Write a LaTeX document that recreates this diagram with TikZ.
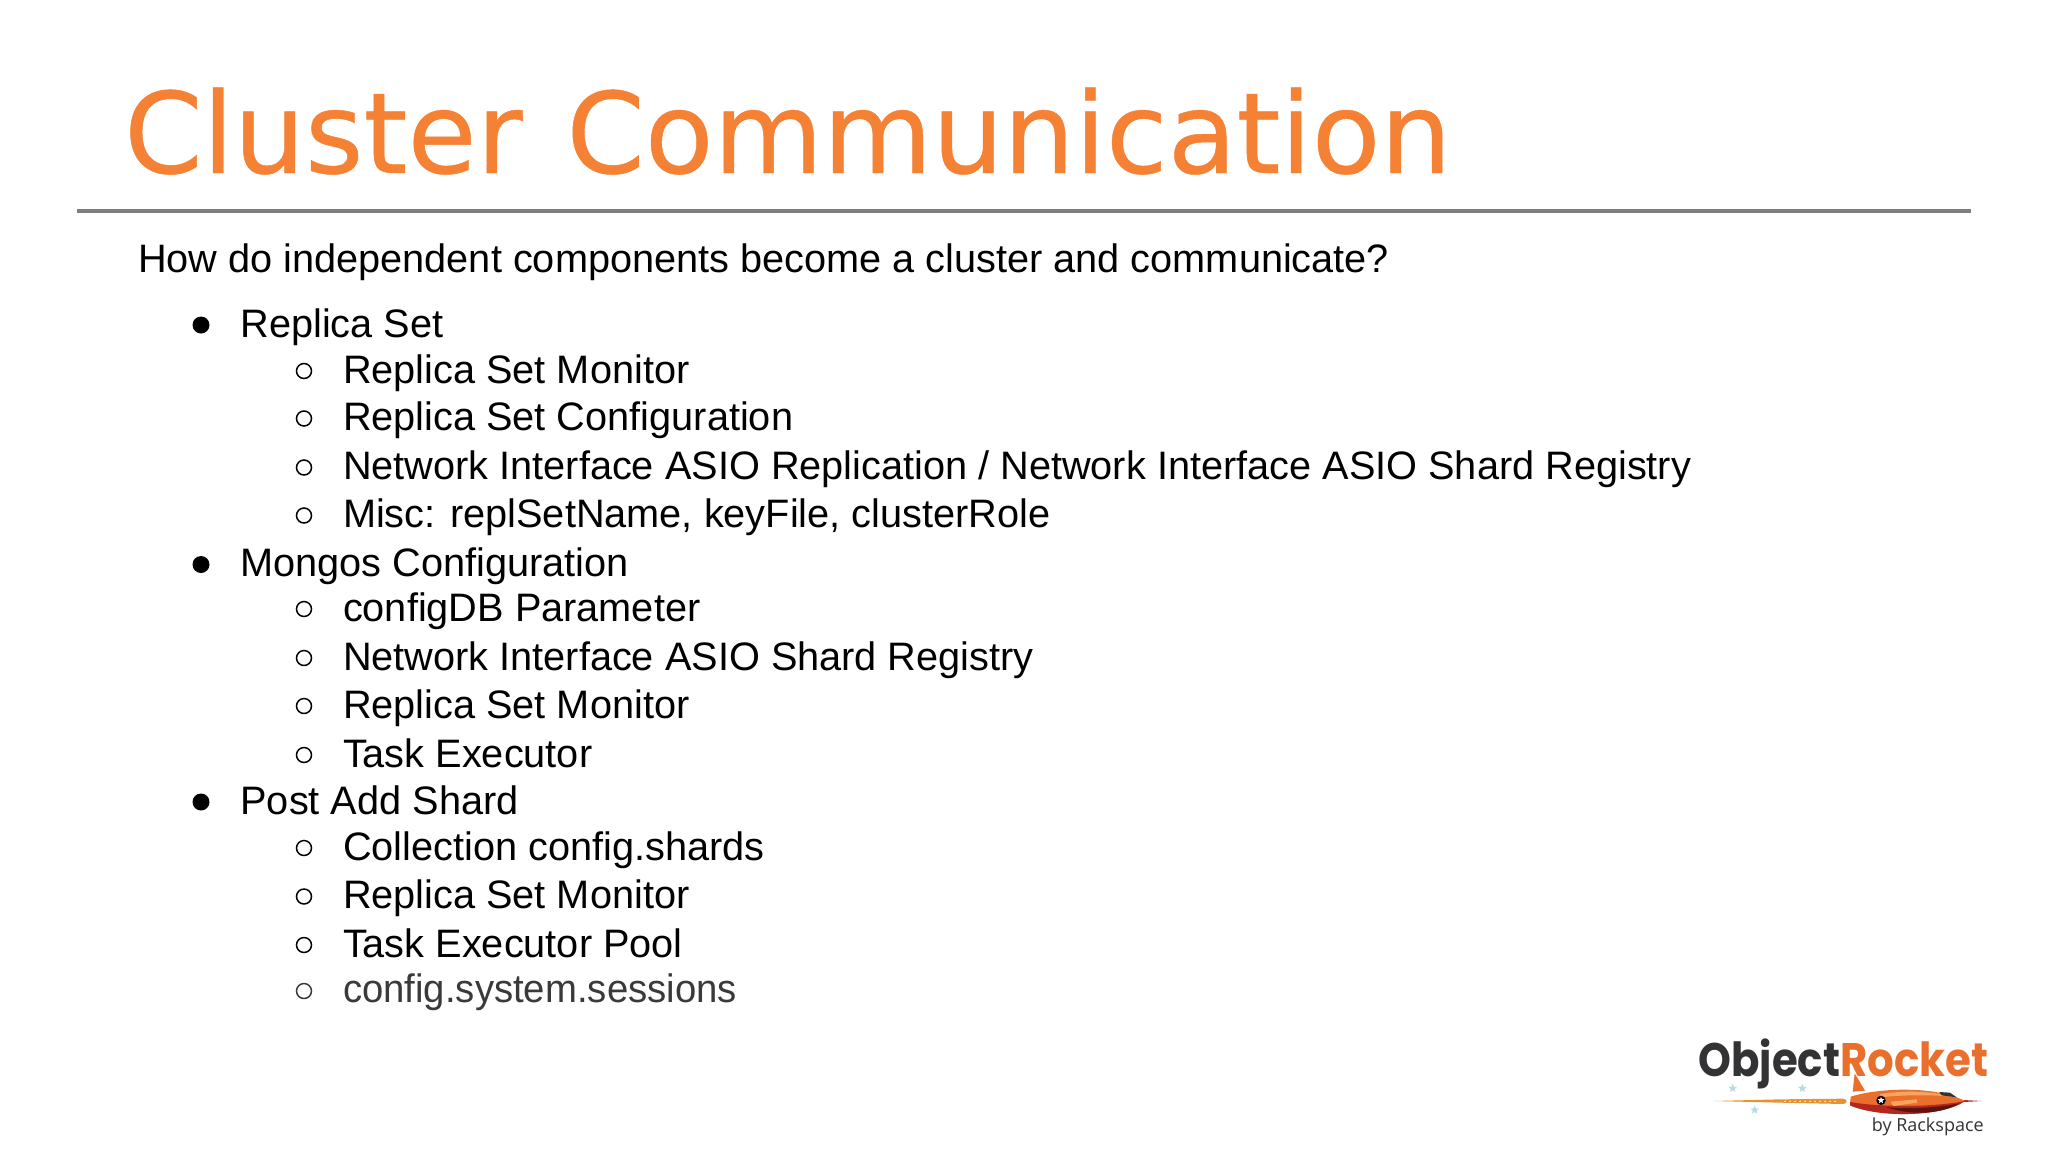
\documentclass[tikz,border=0pt]{standalone}
\usepackage{fontspec}
\setmainfont{Liberation Sans}
\newfontfamily\titlefont[FakeBold=0.4]{DejaVu Sans}
\newfontfamily\logofont{Poppins}
\newfontfamily\byfont{Open Sans}
\usetikzlibrary{shapes.geometric}
\definecolor{orangeT}{HTML}{F48134}
\definecolor{ruleG}{HTML}{7F7F7F}
\definecolor{greyT}{HTML}{3A3A3A}
\definecolor{logoD}{HTML}{333335}
\definecolor{logoO}{HTML}{EA6E2C}
\definecolor{trail}{HTML}{E8932E}
\definecolor{starB}{HTML}{B5DCE6}
\definecolor{rocketR}{HTML}{B5261E}
\definecolor{rocketD}{HTML}{5A1512}
\definecolor{rocketL}{HTML}{F7A45C}
\tikzset{
  body/.style={anchor=base west,inner sep=0pt,outer sep=0pt,font=\fontsize{39.7}{40}\selectfont,text=black},
  bigdot/.style={circle,fill=black,minimum size=17pt,inner sep=0pt},
  ring/.style={circle,draw=black,line width=1.5pt,minimum size=15pt,inner sep=0pt},
  logostar/.style={star,star points=5,star point ratio=2.3,fill=starB,minimum size=9pt,inner sep=0pt},
  logotext/.style={anchor=base west,inner sep=0pt,xscale=.89,font=\logofont\bfseries\fontsize{47}{47}\selectfont},
}
\begin{document}
\begin{tikzpicture}[x=1pt,y=-1pt]
\useasboundingbox (0,0) rectangle (2048,1152);
\fill[white] (0,0) rectangle (2048,1152);
\node[anchor=base west,inner sep=0pt,text=orangeT,font=\titlefont\fontsize{112.3}{116}\selectfont] (title) at (124,173) {Cluster\hspace{8pt} Communication};
\coordinate (ruleL) at (77,211);
\coordinate (ruleR) at (1971,211);
\draw[ruleG,line width=4pt] (ruleL) -- (ruleR);
\node[body] (q) at (138,272) {How do independent components become a cluster and communicate?};
\foreach \n/\t/\yy in {a/Replica Set/337,b/Mongos Configuration/576.5,c/Post Add Shard/814}{
  \node[body] (\n) at (240.5,\yy) {\t};
  \node[bigdot] (\n d) at (201,\yy-12) {};
}
\foreach \n/\t/\yy in {
  a1/Replica Set Monitor/383,
  a2/Replica Set Configuration/430.5,
  a3/{Network Interface ASIO Replication / Network Interface ASIO Shard Registry}/479.5,
  a4/{Misc: replSetName, keyFile, clusterRole}/527.5,
  b1/configDB Parameter/621,
  b2/Network Interface ASIO Shard Registry/670,
  b3/Replica Set Monitor/718,
  b4/Task Executor/767,
  c1/Collection config.shards/860,
  c2/Replica Set Monitor/908.5,
  c3/Task Executor Pool/957}{
  \node[body] (\n) at (343,\yy) {\t};
  \node[ring] (\n r) at (304,\yy-12) {};
}
\node[body,text=greyT,xscale=.965] (c4) at (343,1002) {config.system.sessions};
\node[ring,draw=greyT] (c4r) at (304,991) {};
% logo
\begin{scope}[shift={(1680,1020)},scale=1/3]
\node[logotext,text=logoD] (ob) at (55,168) {Object};
\node[logotext,text=logoO] (ro) at (480,168) {Rocket};
\node[anchor=base west,inner sep=0pt,text=logoD,font=\byfont\fontsize{18}{18}\selectfont] (by) at (575,335) {by Rackspace};
\node[logostar] (s1) at (158,205) {};
\node[logostar] (s2) at (367,205) {};
\node[logostar] (s3) at (224,270) {};
\fill[trail] (100,243) -- (300,238) -- (490,236) .. controls (503,238) and (503,250) .. (490,252) -- (300,248) -- cycle;
\foreach \x in {315,330,...,470}{\fill[white] (\x,244) circle (2.6);}
\fill[logoO] (518,215) -- (524,160) -- (555,212) -- cycle;
\fill[rocketR] (850,240) -- (905,243) -- (850,246) -- cycle;
\fill[logoO] (512,230) .. controls (600,202) and (770,198) .. (855,243) .. controls (790,290) and (600,295) .. (510,256) -- cycle;
\fill[rocketR] (510,246) .. controls (600,262) and (760,262) .. (855,243) .. controls (790,290) and (600,295) .. (510,256) -- cycle;
\fill[rocketD] (620,262) .. controls (700,268) and (780,262) .. (838,250) .. controls (780,284) and (690,286) .. (620,262) -- cycle;
\fill[rocketL] (600,222) .. controls (680,210) and (760,214) .. (820,230) .. controls (750,224) and (670,224) .. (600,232) -- cycle;
\fill[logoD] (778,216) -- (810,218) -- (830,232) -- (785,226) -- cycle;
\fill[rocketL] (632,245) -- (710,238) -- (712,248) -- (640,258) -- cycle;
\fill[black] (603,241) circle (14);
\node[logostar,fill=white,minimum size=7pt] (s4) at (603,241) {};
\end{scope}
\end{tikzpicture}
\end{document}
